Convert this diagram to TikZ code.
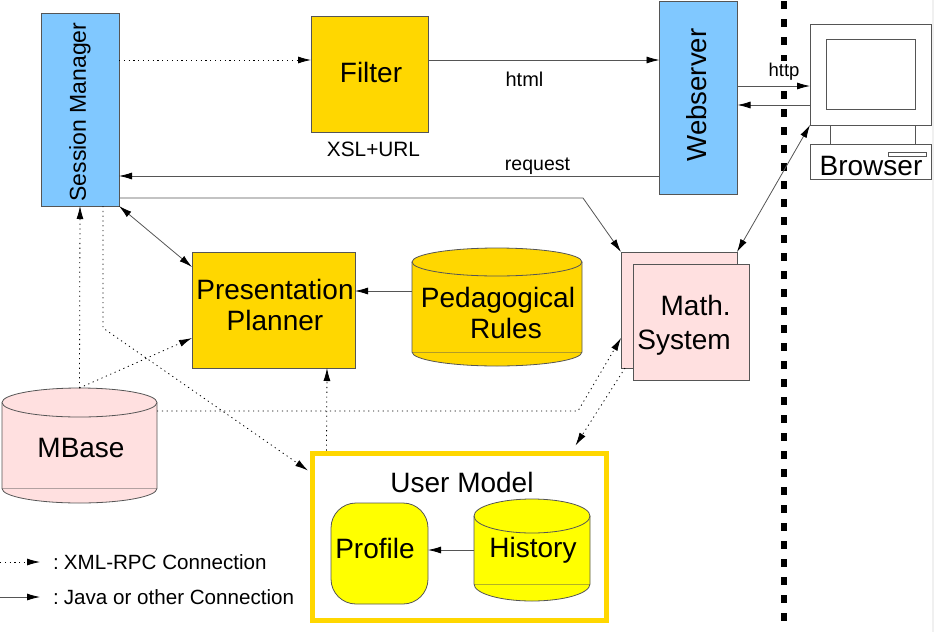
\documentclass[tikz,border=0pt]{standalone}
\usepackage{fontspec}
\setmainfont{Liberation Sans}
\usetikzlibrary{arrows.meta}
\definecolor{skyfill}{RGB}{128,200,255}
\definecolor{goldfill}{RGB}{255,215,0}
\definecolor{rosefill}{RGB}{255,224,224}
\definecolor{lemonfill}{RGB}{255,255,0}
\definecolor{edgegray}{RGB}{85,85,85}
\tikzset{
    box/.style={draw=edgegray, line width=0.8pt, inner sep=0pt, outer sep=0pt},
    dbarea/.style={inner sep=0pt, outer sep=0pt},
    big/.style={font=\fontsize{28}{31}\selectfont, inner sep=0pt},
    small/.style={font=\fontsize{20}{24}\selectfont, inner sep=0pt},
    conn/.style={edgegray, line width=0.8pt, -{Latex[length=13pt,width=7pt,color=black]}},
    bothconn/.style={edgegray, line width=0.8pt, {Latex[length=13pt,width=7pt,color=black]}-{Latex[length=13pt,width=7pt,color=black]}},
    dotconn/.style={conn, black, dash pattern=on 1.2pt off 3.6pt},
}
% node name, fill, half width, height of the round end
\newcommand{\dbdraw}[4]{
    \draw[edgegray, line width=0.8pt, fill=#2] ([yshift=-#4pt]#1.north west) -- ([yshift=#4pt]#1.south west)
        arc[start angle=180, end angle=360, x radius=#3pt, y radius=#4pt] -- ([yshift=-#4pt]#1.north east)
        arc[start angle=0, end angle=180, x radius=#3pt, y radius=#4pt] -- cycle;
    \draw[edgegray, line width=0.8pt] ([yshift=-#4pt]#1.north west) arc[start angle=180, end angle=360, x radius=#3pt, y radius=#4pt];
    \draw[edgegray, line width=0.6pt, opacity=0.45] ([yshift=#4pt]#1.south west) -- ([yshift=#4pt]#1.south east);
}
\begin{document}
\begin{tikzpicture}[x=1pt, y=-1pt]
        \useasboundingbox (0,0) rectangle (934,632);
        \fill[gray!12] (932,0) rectangle (934,632);

        % servers
        \node[box, fill=skyfill, minimum width=78pt, minimum height=193pt] (session) at (80,109.5) {};
        \node[box, fill=skyfill, minimum width=78pt, minimum height=193pt] (webserver) at (698.5,97.5) {};
        \node[box, fill=goldfill, minimum width=117pt, minimum height=116pt] (filter) at (369.5,74) {};
        \node[box, fill=goldfill, minimum width=163pt, minimum height=116pt] (planner) at (273.5,310) {};
        \node[box, fill=rosefill, minimum width=116pt, minimum height=116pt] (mathback) at (679,310) {};
        \node[box, fill=rosefill, minimum width=116pt, minimum height=116pt] (mathfront) at (691,322) {};

        % data bases
        \node[dbarea, minimum width=170pt, minimum height=118pt] (rules) at (497,307) {};
        \node[dbarea, minimum width=155pt, minimum height=115pt] (mbase) at (79.5,445.5) {};
        \dbdraw{rules}{goldfill}{85}{14}
        \dbdraw{mbase}{rosefill}{77.5}{14.5}

        % user model
        \node[draw=goldfill, line width=5pt, inner sep=0pt, minimum width=294pt, minimum height=167pt] (usermodel) at (459,536.5) {};
        \node[box, fill=lemonfill, rounded corners=25pt, minimum width=97pt, minimum height=101pt] (profile) at (379.5,553.5) {};
        \node[dbarea, minimum width=116pt, minimum height=102pt] (history) at (532,550) {};
        \dbdraw{history}{lemonfill}{58}{17}

        % browser
        \node[box, minimum width=121pt, minimum height=101pt] (monitor) at (870.5,74.5) {};
        \node[box, minimum width=89pt, minimum height=70pt] (screen) at (870.5,74) {};
        \node[box, minimum width=85pt, minimum height=19pt] (neck) at (872.5,134.5) {};
        \node[box, minimum width=121pt, minimum height=35pt] (keyboard) at (870.5,161.5) {};
        \node[box, minimum width=38pt, minimum height=4pt] (slot) at (907,154) {};

        % border of the server side
        \draw[black, line width=6pt, dash pattern=on 8pt off 10pt] (784,1) -- (784,626);

        % labels
        \node[small, rotate=90, font=\fontsize{23}{26}\selectfont] (sessiontext) at (80,112) {Session Manager};
        \node[big, rotate=90, font=\fontsize{27.6}{30}\selectfont] (webtext) at (697,95) {Webserver};
        \node[big] (filtertext) at (371,72.5) {Filter};
        \node[big, align=center] (plannertext) at (275,305) {Presentation\\Planner};
        \node[big, align=center] (rulestext) at (498,313) {Pedagogical\\\hspace*{16pt}Rules};
        \node[big, align=right] (mathtext) at (684,325.5) {Math.\\[3pt]System};
        \node[big] (mbasetext) at (81,448) {MBase};
        \node[big] (umtext) at (462,482) {User Model};
        \node[big] (profiletext) at (375,548) {Profile};
        \node[big] (historytext) at (533,550) {History};
        \node[big] (browsertext) at (871,166) {Browser};
        \node[small] (htmltext) at (524.5,79) {html};
        \node[small, font=\fontsize{20.8}{24}\selectfont] (xsltext) at (373.5,149) {XSL+URL};
        \node[small, font=\fontsize{19.5}{24}\selectfont] (requesttext) at (537.5,166) {request};
        \node[small, fill=white, inner ysep=2pt, font=\fontsize{18.5}{22}\selectfont] (httptext) at (784,72) {http};

        % connections
        \draw[dotconn] ([yshift=49.5pt]session.east) -- ([yshift=14pt]filter.west);
        \draw[conn] ([yshift=14pt]filter.east) -- ([yshift=37.5pt]webserver.west);
        \draw[conn] ([yshift=-78.5pt]webserver.west) -- ([yshift=-66.5pt]session.east);
        \draw[conn] ([yshift=11.5pt]webserver.east) -- ([yshift=-11.5pt]monitor.west);
        \draw[conn] ([yshift=-30.5pt]monitor.west) -- ([yshift=-7.5pt]webserver.east);
        \coordinate (mathbend) at (583,198);
        \draw[conn] ([yshift=-88.5pt]session.east) -- (mathbend) -- (mathback.north west);
        \draw[bothconn] (session.south east) -- ([yshift=43pt]planner.west);
        \draw[conn] ([yshift=16pt]rules.west) -- ([yshift=19pt]planner.east);
        \draw[bothconn] (monitor.south west) -- (mathback.north east);
        \draw[conn] (history.west) -- (history.west -| profile.east);

        \draw[dotconn] (mbase.north) -- (session.south);
        \draw[dotconn] (mbase.north) -- ([yshift=-28pt]planner.west);
        \coordinate (sessionbend) at (103,328);
        \draw[dotconn] ([xshift=23pt]session.south) -- (sessionbend) -- ([xshift=-1.5pt,yshift=-20pt]usermodel.north west);
        \draw[dotconn] ([xshift=17pt]usermodel.north west) -- ([xshift=135pt]planner.south west);
        \coordinate (mathdot) at (578,411);
        \draw[dotconn] ([yshift=34.5pt]mbase.east) -- (mathdot) -- ([yshift=-28pt]mathback.west);
        \draw[dotconn] ([xshift=4pt]mathback.south west) -- ([xshift=-33pt,yshift=5pt]usermodel.north east);

        % legend
        \coordinate (dotfrom) at (0,562);
        \coordinate (dotto) at (40,562);
        \coordinate (solidfrom) at (0,597);
        \coordinate (solidto) at (40,597);
        \draw[dotconn] (dotfrom) -- (dotto);
        \draw[conn] (solidfrom) -- (solidto);
        \node[small, anchor=west, font=\fontsize{20.6}{24}\selectfont] (dotlegend) at (53,562) {:\hspace{5pt}XML-RPC Connection};
        \node[small, anchor=west, font=\fontsize{20.6}{24}\selectfont] (solidlegend) at (53,597) {:\hspace{5pt}Java or other Connection};
    \end{tikzpicture}
\end{document}
